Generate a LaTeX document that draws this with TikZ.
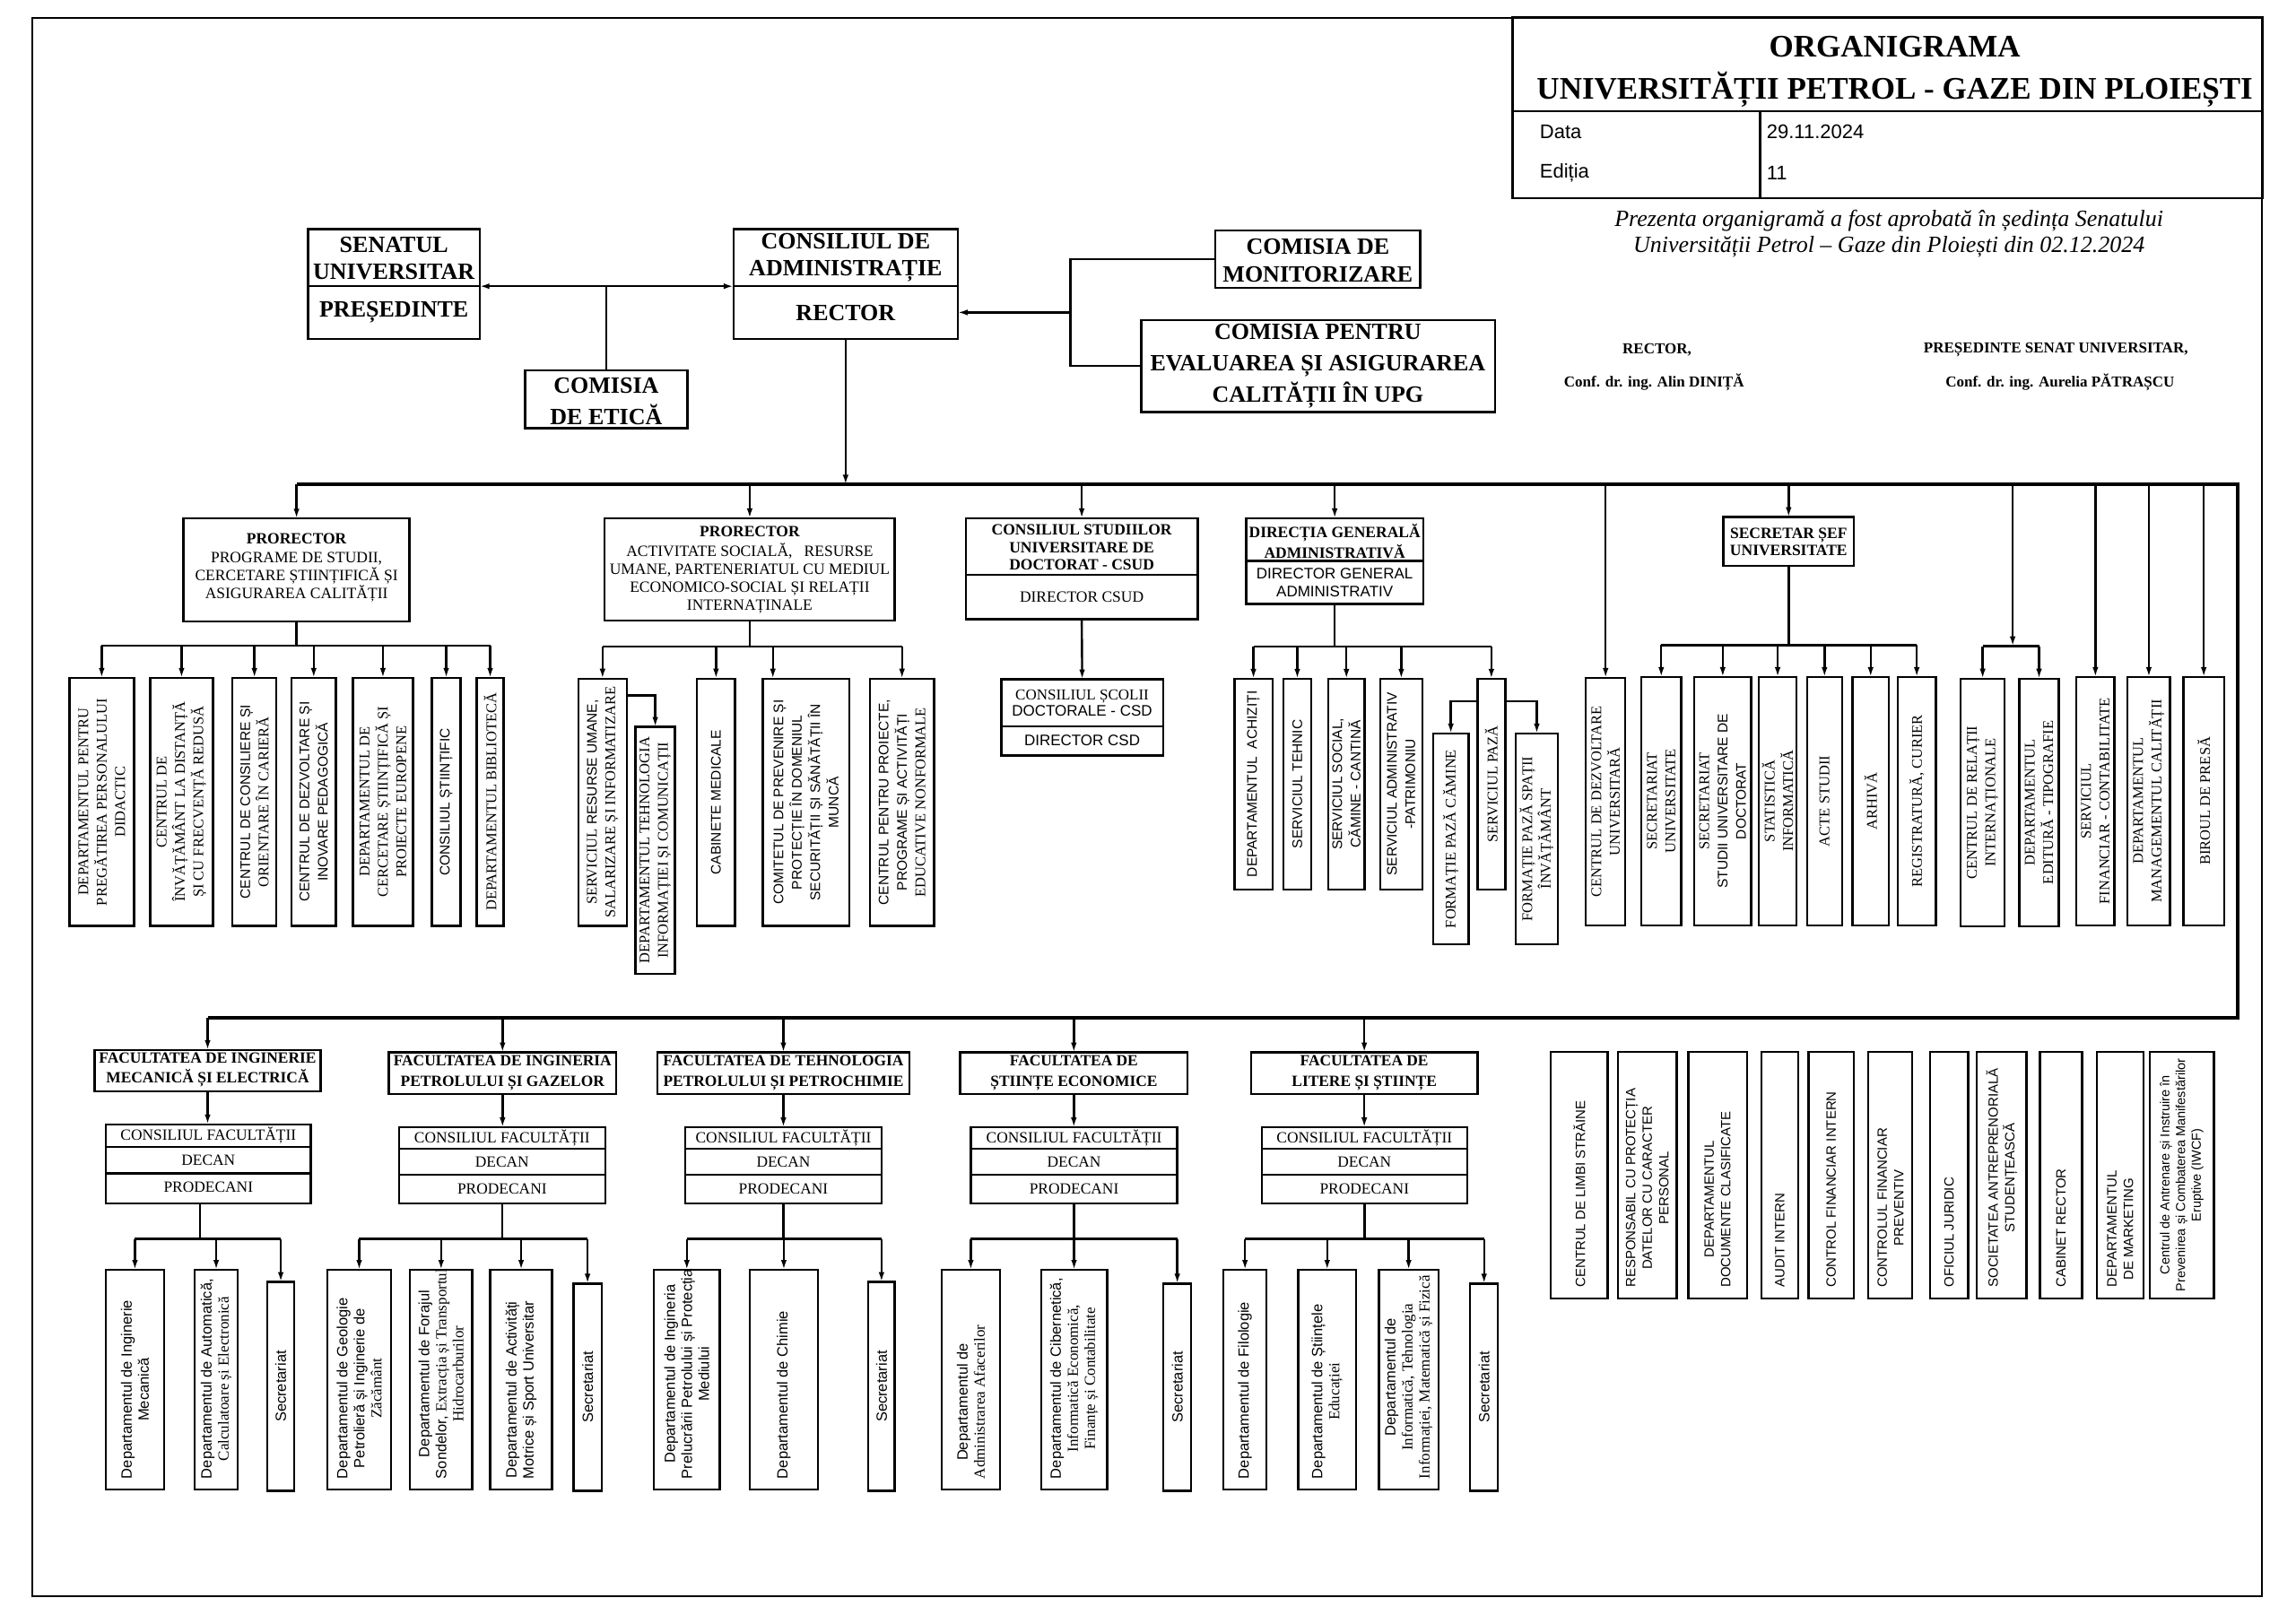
\documentclass[tikz,border=0pt]{standalone}
\usepackage{fontspec}
\setmainfont{Liberation Serif}
\newfontfamily\sansf{Liberation Sans}
\usetikzlibrary{arrows.meta,fit}
\newcommand\fsz[2]{\fontsize{#1}{#2}\selectfont}
\newcommand\bx[5]{\node[boxs,fit={(#2,#3) (#4,#5)}] (#1) {};}
\newcommand\vtx[3]{\node[vt,#2] (#1t) at (#1.center) {#3};}
\newcommand\vtb[3]{\node[vt,anchor=west,#2] (#1t) at ([yshift=12pt]#1.south) {#3};}
\tikzset{
 boxs/.style={draw,line width=2.4pt,inner sep=0pt,outer sep=0pt},
 con/.style={line width=2.4pt},
 arr/.style={line width=2.4pt,-{Latex[length=11pt,width=6.5pt]}},
 busl/.style={line width=4pt},
 vt/.style={rotate=90,align=center,inner sep=0pt},
 vr/.style={font=\fsz{16.5}{20.5}},
 vs/.style={font=\sansf\fsz{15.5}{20.5}},
 bt/.style={font=\sansf\fsz{16.5}{19}},
 rt/.style={font=\sansf\fsz{15}{18.5}},
 hb/.style={align=center,inner sep=0pt,font=\bfseries\fsz{26}{30}},
 mb/.style={align=center,inner sep=0pt,font=\bfseries\fsz{17.5}{19.5}},
 mr/.style={align=center,inner sep=0pt,font=\fsz{17.5}{19.5}},
 ms/.style={align=center,inner sep=0pt,font=\sansf\fsz{17}{20}},
 fb/.style={align=center,inner sep=0pt,font=\bfseries\fsz{17.4}{22.7}},
 cfr/.style={align=center,inner sep=0pt,font=\fsz{17.4}{20}},
}
\begin{document}
\begin{tikzpicture}[x=1.63265pt,y=-1.63265pt]
\useasboundingbox (0,0) rectangle (1568,1109);
\fill[white] (0,0) rectangle (1568,1109);
\draw[line width=2pt] (22,12) rectangle (1545,1090);

% ---------- title block
\bx{tit}{1033}{12}{1545}{135.4}
\draw[con] (1033,76) -- (1545,76);
\draw[con] (1202,76) -- (1202,135.4);
\node[inner sep=0pt,font=\bfseries\fsz{35}{38}] (tt1) at (1294,32) {ORGANIGRAMA};
\node[inner sep=0pt,font=\bfseries\fsz{35}{38}] (tt2) at (1294,61.3) {UNIVERSITĂȚII PETROL - GAZE DIN PLOIEȘTI};
\node[anchor=west,inner sep=0pt,font=\sansf\fsz{22}{24}] (dl) at (1051.5,89.8) {Data};
\node[anchor=west,inner sep=0pt,font=\sansf\fsz{22}{24}] (dv) at (1206.4,89.8) {29.11.2024};
\node[anchor=west,inner sep=0pt,font=\sansf\fsz{22}{24}] (el) at (1051.5,118.4) {Ediția};
\node[anchor=west,inner sep=0pt,font=\sansf\fsz{22}{24}] (ev) at (1206.4,118.4) {11};
\node[align=center,inner sep=0pt,font=\itshape\fsz{26}{28.4}] (apr) at (1290,159.7) {Prezenta organigramă a fost aprobată în ședința Senatului\\Universității Petrol – Gaze din Ploiești din 02.12.2024};
\node[inner sep=0pt,font=\bfseries\fsz{17}{20}] (sg1) at (1131.6,239) {RECTOR,};
\node[inner sep=0pt,font=\bfseries\fsz{17}{20}] (sg2) at (1129.6,261) {Conf. dr. ing. Alin DINIȚĂ};
\node[inner sep=0pt,font=\bfseries\fsz{17}{20}] (sg3) at (1404,239) {PREȘEDINTE SENAT UNIVERSITAR,};
\node[inner sep=0pt,font=\bfseries\fsz{17}{20}] (sg4) at (1406.8,261) {Conf. dr. ing. Aurelia PĂTRAȘCU};

% ---------- top level
\bx{sen}{210.5}{156.5}{327.5}{231.5}
\draw[con] (210.5,195.5) -- (327.5,195.5);
\node[hb] (senT) at (269,176.6) {SENATUL\\UNIVERSITAR};
\node[hb] (senP) at (269,213) {PREȘEDINTE};
\bx{cad}{501}{156.5}{654}{231.5}
\draw[con] (501,195.5) -- (654,195.5);
\node[hb] (cadT) at (577.5,176) {CONSILIUL DE\\ADMINISTRAȚIE};
\node[hb] (cadR) at (577.5,214) {RECTOR};
\coordinate (sa) at (327.5,195.5);
\coordinate (sb) at (501,195.5);
\draw[con,{Latex[length=11pt,width=6.5pt]}-{Latex[length=11pt,width=6.5pt]}] (sa) -- (sb);
\bx{eti}{358.5}{253}{469.5}{292.5}
\draw[con] (eti.north |- sa) -- (eti.north);
\node[hb,font=\bfseries\fsz{26}{35}] (etiT) at (414,274) {COMISIA\\DE ETICĂ};
\bx{mon}{830}{157.5}{970}{196.5}
\node[hb,font=\bfseries\fsz{26}{31}] (monT) at (900,178) {COMISIA DE\\MONITORIZARE};
\bx{eva}{779.5}{218.5}{1021}{281.5}
\node[hb,font=\bfseries\fsz{26}{35}] (evaT) at (900,249.8) {COMISIA PENTRU\\EVALUAREA ȘI ASIGURAREA\\CALITĂȚII ÎN UPG};
\coordinate (kx) at (731,213.4);
\draw[con] (mon.west) -| (kx) |- (eva.west);
\draw[arr] (kx) -- (kx -| cad.east);

% ---------- buses
\coordinate (busL) at (202.5,331);
\coordinate (busR) at (1528,331);
\coordinate (busBR) at (1528,695);
\coordinate (busBL) at (141.8,695);
\draw[busl] (busL) -- (busR) -- (busBR) -- (busBL);
\draw[arr] (cad.south) -- (cad.south |- busL);

% ---------- prorector 1
\bx{pra}{125.3}{354.2}{279.7}{424.3}
\draw[arr] (pra.north |- busL) -- (pra.north);
\node[mb] (praT) at (202.5,368) {PRORECTOR};
\node[mr,font=\fsz{17.5}{20}] (praS) at (202.5,394) {PROGRAME DE STUDII,\\CERCETARE ȘTIINȚIFICĂ ȘI\\ASIGURAREA CALITĂȚII};
\coordinate (ba) at (202.5,441);
\draw[con] (pra.south) -- (ba);
\bx{a1}{47.4}{463}{91.5}{632.5}
\bx{a2}{102.5}{463}{145.5}{632.5}
\bx{a3}{158.7}{463}{188.8}{632.5}
\bx{a4}{199}{463}{229.5}{632.5}
\bx{a5}{241}{463}{282}{632.5}
\bx{a6}{295}{463}{314.5}{632.5}
\bx{a7}{325.5}{463}{344}{632.5}
\draw[con] (a1.north |- ba) -- (a7.north |- ba);
\foreach \n in {a1,a2,a3,a4,a5,a6,a7} {\draw[arr] (\n.north |- ba) -- (\n.north);}
\vtx{a1}{vr}{DEPARTAMENTUL PENTRU\\PREGĂTIREA PERSONALULUI\\DIDACTIC}
\vtx{a2}{vr}{CENTRUL DE\\ÎNVĂȚĂMÂNT LA DISTANȚĂ\\ȘI CU FRECVENȚĂ REDUSĂ}
\vtx{a3}{vr}{{\sansf\fsz{15.5}{20.5}CENTRUL DE CONSILIERE ȘI}\\ORIENTARE ÎN CARIERĂ}
\vtx{a4}{vs}{CENTRUL DE DEZVOLTARE ȘI\\INOVARE PEDAGOGICĂ}
\vtx{a5}{vr}{DEPARTAMENTUL DE\\CERCETARE ȘTIINȚIFICĂ ȘI\\PROIECTE EUROPENE}
\vtx{a6}{vs}{CONSILIUL ȘTIINȚIFIC}
\vtx{a7}{vr}{DEPARTAMENTUL BIBLIOTECĂ}

% ---------- prorector 2
\bx{prb}{413}{354}{611}{424}
\draw[arr] (prb.north |- busL) -- (prb.north);
\node[mb] (prbT) at (512,363.3) {PRORECTOR};
\node[mr,font=\fsz{17.5}{20}] (prbS) at (512,395) {ACTIVITATE SOCIALĂ,\ \ \ RESURSE\\UMANE, PARTENERIATUL CU MEDIUL\\ECONOMICO-SOCIAL ȘI RELAȚII\\INTERNAȚINALE};
\coordinate (bb) at (512,441.5);
\draw[con] (prb.south) -- (bb);
\bx{b1}{395}{463.5}{428}{632.5}
\bx{b2}{434}{496.5}{461}{665}
\bx{b3}{476}{463.5}{502}{632.5}
\bx{b4}{521}{463.5}{580}{632.5}
\bx{b5}{594}{463.5}{638}{632.5}
\coordinate (b4d) at (527.8,463.5);
\draw[con] (b1.north |- bb) -- (b5.north |- bb);
\draw[arr] (b1.north |- bb) -- (b1.north);
\draw[arr] (b3.north |- bb) -- (b3.north);
\draw[arr] (b4d |- bb) -- (b4d);
\draw[arr] (b5.north |- bb) -- (b5.north);
\coordinate (b12) at (448,475);
\draw[arr] (b1.east |- b12) -| (b2.north);
\vtx{b1}{vr}{SERVICIUL {\sansf\fsz{15.5}{20.5}RESURSE UMANE,}\\SALARIZARE ȘI INFORMATIZARE}
\vtx{b2}{vr}{DEPARTAMENTUL TEHNOLOGIA\\INFORMAȚIEI ȘI COMUNICAȚII}
\vtx{b3}{vs}{CABINETE MEDICALE}
\vtx{b4}{vs}{COMITETUL DE PREVENIRE ȘI\\PROTECȚIE ÎN DOMENIUL\\SECURITĂȚII ȘI SĂNĂTĂȚII ÎN\\MUNCĂ}
\vtx{b5}{vs}{CENTRUL PENTRU PROIECTE,\\PROGRAME ȘI ACTIVITĂȚI\\{\rmfamily\fsz{16.5}{20.5}EDUCATIVE NONFORMALE}}

% ---------- CSUD
\bx{csu}{659.5}{354}{818}{423}
\draw[con] (659.5,392.6) -- (818,392.6);
\draw[arr] (csu.north |- busL) -- (csu.north);
\node[mb,font=\bfseries\fsz{17.5}{19.6}] (csuT) at (738.75,373.8) {CONSILIUL STUDIILOR\\UNIVERSITARE DE\\DOCTORAT - CSUD};
\node[mr] (csuD) at (738.75,408) {DIRECTOR CSUD};
\bx{csd}{683.8}{464}{794.3}{516}
\draw[con] (683.8,496) -- (794.3,496);
\node[mr,font=\fsz{17}{18.2}] (csdT) at (739,480.3) {CONSILIUL ȘCOLII\\{\sansf DOCTORALE - CSD}};
\node[ms] (csdD) at (739,505.7) {DIRECTOR CSD};
\draw[arr] (csu.south) -- (csd.north);

% ---------- DGA
\bx{dga}{851}{354}{972}{412.5}
\draw[con] (851,383) -- (972,383);
\draw[arr] (dga.north |- busL) -- (dga.north);
\node[mb,font=\bfseries\fsz{17.5}{22.5}] (dgaT) at (911.5,369.7) {DIRECȚIA GENERALĂ\\ADMINISTRATIVĂ};
\node[ms,font=\sansf\fsz{17}{19.9}] (dgaD) at (911.5,398.1) {DIRECTOR GENERAL\\ADMINISTRATIV};
\coordinate (bd) at (911.5,441.6);
\draw[con] (dga.south) -- (bd);
\bx{d1}{843}{463.6}{869}{607.5}
\bx{d2}{876.5}{463.6}{895.4}{607.5}
\bx{d3}{907}{463.6}{932}{607.5}
\bx{d4}{942.6}{463.6}{971.3}{607.5}
\bx{d5}{1009}{463.6}{1028}{607.5}
\bx{d6}{978.6}{501}{1003}{645}
\bx{d7}{1035}{501}{1064}{645}
\draw[con] (d1.north |- bd) -- (d5.north |- bd);
\foreach \n in {d1,d2,d3,d4,d5} {\draw[arr] (\n.north |- bd) -- (\n.north);}
\coordinate (pz) at (1018.5,479);
\draw[arr] (d5.west |- pz) -| (d6.north);
\draw[arr] (d5.east |- pz) -| (d7.north);
\vtx{d1}{vs}{DEPARTAMENTUL\ \ ACHIZIȚI}
\vtx{d2}{vs}{SERVICIUL TEHNIC}
\vtx{d3}{vs}{SERVICIUL SOCIAL,\\CĂMINE - CANTINĂ}
\vtx{d4}{vs}{SERVICIUL ADMINISTRATIV\\-PATRIMONIU}
\vtx{d5}{vr}{SERVICIUL PAZĂ}
\vtx{d6}{vr}{FORMAȚIE PAZĂ CĂMINE}
\vtx{d7}{vr}{FORMAȚIE PAZĂ SPAȚII\\ÎNVĂȚĂMÂNT}

% ---------- centrul de dezvoltare
\bx{cdu}{1083}{463}{1110}{632}
\draw[arr] (cdu.north |- busL) -- (cdu.north);
\vtx{cdu}{vr}{CENTRUL DE DEZVOLTARE\\UNIVERSITARĂ}

% ---------- secretar sef
\bx{ssu}{1177}{353.2}{1266}{386.5}
\draw[arr] (ssu.north |- busL) -- (ssu.north);
\node[mb,font=\bfseries\fsz{17.5}{18.5}] (ssuT) at (1221.5,370) {SECRETAR ȘEF\\UNIVERSITATE};
\coordinate (bs) at (1221.5,440.6);
\draw[con] (ssu.south) -- (bs);
\bx{e1}{1121}{462.4}{1148}{632}
\bx{e2}{1157}{462.4}{1196}{632}
\bx{e3}{1201}{462.4}{1227}{632}
\bx{e4}{1234}{462.4}{1258}{632}
\bx{e5}{1265}{462.4}{1290}{632}
\bx{e6}{1296}{462.4}{1322}{632}
\draw[con] (e1.north |- bs) -- (e6.north |- bs);
\foreach \n in {e1,e2,e3,e4,e5,e6} {\draw[arr] (\n.north |- bs) -- (\n.north);}
\vtx{e1}{vr}{SECRETARIAT\\UNIVERSITATE}
\vtx{e2}{vr}{SECRETARIAT\\{\sansf\fsz{15.5}{20.5}STUDII UNIVERSITARE DE}\\{\sansf\fsz{15.5}{20.5}DOCTORAT}}
\vtx{e3}{vr}{STATISTICĂ\\INFORMATICĂ}
\vtx{e4}{vr}{ACTE STUDII}
\vtx{e5}{vr}{ARHIVĂ}
\vtx{e6}{vr}{REGISTRATURĂ, CURIER}

% ---------- relatii / editura
\bx{f1}{1339}{463.5}{1369}{632.7}
\bx{f2}{1379}{463.5}{1406}{632.7}
\coordinate (br) at (1374.5,441.4);
\draw[arr] (br |- busL) -- (br);
\draw[con] (f1.north |- br) -- (f2.north |- br);
\draw[arr] (f1.north |- br) -- (f1.north);
\draw[arr] (f2.north |- br) -- (f2.north);
\vtx{f1}{vr}{CENTRUL DE RELAȚII\\INTERNAȚIONALE}
\vtx{f2}{vr}{DEPARTAMENTUL\\EDITURĂ - TIPOGRAFIE}

% ---------- financiar, calitate, presa
\bx{g1}{1418}{462.4}{1444}{632}
\bx{g2}{1453}{462.4}{1482}{632}
\bx{g3}{1491}{462.4}{1519}{632}
\foreach \n in {g1,g2,g3} {\draw[arr] (\n.north |- busL) -- (\n.north);}
\vtx{g1}{vr}{SERVICIUL\\FINANCIAR - CONTABILITATE}
\vtx{g2}{vr}{DEPARTAMENTUL\\MANAGEMENTUL CALITĂȚII}
\vtx{g3}{vr}{BIROUL DE PRESĂ}

% ---------- faculties
% FAC 1
\bx{fa1}{64.6}{717.2}{219}{745.3}
\draw[arr] (fa1.north |- busBL) -- (fa1.north);
\node[fb] (fa1T) at (141.8,730.6) {FACULTATEA DE INGINERIE\\MECANICĂ ȘI ELECTRICĂ};
\bx{cf1}{72.3}{768}{212.3}{822}
\draw[con] (72.3,783.5) -- (212.3,783.5);
\draw[con] (72.3,801.5) -- (212.3,801.5);
\node[cfr] (cf1a) at (142.3,775.7) {CONSILIUL FACULTĂȚII};
\node[cfr] (cf1b) at (142.3,792.5) {DECAN};
\node[cfr] (cf1c) at (142.3,811) {PRODECANI};
\draw[arr] (fa1.south) -- (fa1.south |- cf1.north);
\coordinate (s1) at (136.6,846.2);
\draw[con] (cf1.south -| s1) -- (s1);
\bx{h11}{72.3}{867.3}{112}{1017.5}
\bx{h12}{133}{867.3}{162.3}{1017.5}
\bx{h13}{182.5}{875.6}{201}{1018.3}
\draw[con] (h11.north |- s1) -- (h13.north |- s1);
\foreach \n in {h11,h12,h13} {\draw[arr] (\n.north |- s1) -- (\n.north);}
\vtb{h11}{bt}{Departamentul de Inginerie\\Mecanică}
\vtb{h12}{bt}{Departamentul de Automatică,\\{\rmfamily\fsz{17}{19}Calculatoare și Electronică}}
\vtx{h13}{bt}{Secretariat}

% FAC 2
\bx{fa2}{265.6}{718.8}{420.8}{747.2}
\draw[arr] (fa2.north |- busBL) -- (fa2.north);
\node[fb] (fa2T) at (343.2,733) {FACULTATEA DE INGINERIA\\PETROLULUI ȘI GAZELOR};
\bx{cf2}{272.4}{770}{413.4}{822}
\draw[con] (272.4,784.5) -- (413.4,784.5);
\draw[con] (272.4,802.4) -- (413.4,802.4);
\node[cfr] (cf2a) at (342.9,777) {CONSILIUL FACULTĂȚII};
\node[cfr] (cf2b) at (342.9,793.5) {DECAN};
\node[cfr] (cf2c) at (342.9,812) {PRODECANI};
\draw[arr] (fa2.south) -- (fa2.south |- cf2.north);
\coordinate (s2) at (342.9,846.2);
\draw[con] (cf2.south) -- (s2);
\bx{h21}{223.6}{867.3}{267}{1017.5}
\bx{h22}{280}{867.3}{322.5}{1017.5}
\bx{h23}{334.8}{867.3}{377}{1017.5}
\bx{h24}{391.7}{876.7}{410.8}{1018.3}
\draw[con] (h21.north |- s2) -- (h24.north |- s2);
\foreach \n in {h21,h22,h23,h24} {\draw[arr] (\n.north |- s2) -- (\n.north);}
\vtb{h21}{bt}{Departamentul de Geologie\\Petrolieră și Inginerie de\\{\rmfamily\fsz{17}{19}Zăcământ}}
\vtb{h22}{bt}{Departamentul de Forajul\\Sondelor, {\rmfamily\fsz{17}{19}Extracția și Transportul}\\{\rmfamily\fsz{17}{19}Hidrocarburilor}}
\vtb{h23}{bt}{Departamentul de Activități\\Motrice și Sport Universitar}
\vtx{h24}{bt}{Secretariat}

% FAC 3
\bx{fa3}{449}{718.8}{621}{747.2}
\draw[arr] (fa3.north |- busBL) -- (fa3.north);
\node[fb] (fa3T) at (535,733) {FACULTATEA DE TEHNOLOGIA\\PETROLULUI ȘI PETROCHIMIE};
\bx{cf3}{468}{770}{602}{822}
\draw[con] (468,784.5) -- (602,784.5);
\draw[con] (468,802.4) -- (602,802.4);
\node[cfr] (cf3a) at (535,777) {CONSILIUL FACULTĂȚII};
\node[cfr] (cf3b) at (535,793.5) {DECAN};
\node[cfr] (cf3c) at (535,812) {PRODECANI};
\draw[arr] (fa3.south) -- (fa3.south |- cf3.north);
\coordinate (s3) at (535,846.2);
\draw[con] (cf3.south) -- (s3);
\bx{h31}{446.5}{867.3}{491.6}{1017.5}
\bx{h32}{512}{867.3}{558.6}{1017.5}
\bx{h33}{593}{875.6}{611}{1018.3}
\draw[con] (h31.north |- s3) -- (h33.north |- s3);
\foreach \n in {h31,h32,h33} {\draw[arr] (\n.north |- s3) -- (\n.north);}
\vtb{h31}{bt}{Departamentul de Ingineria\\Prelucrării Petrolului și Protecția\\Mediului}
\vtb{h32}{bt}{Departamentul de Chimie}
\vtx{h33}{bt}{Secretariat}

% FAC 4
\bx{fa4}{655.7}{718.8}{811}{747.2}
\draw[arr] (fa4.north |- busBL) -- (fa4.north);
\node[fb] (fa4T) at (733.4,733) {FACULTATEA DE\\ȘTIINȚE ECONOMICE};
\bx{cf4}{663}{770}{804}{822}
\draw[con] (663,784.5) -- (804,784.5);
\draw[con] (663,802.4) -- (804,802.4);
\node[cfr] (cf4a) at (733.5,777) {CONSILIUL FACULTĂȚII};
\node[cfr] (cf4b) at (733.5,793.5) {DECAN};
\node[cfr] (cf4c) at (733.5,812) {PRODECANI};
\draw[arr] (fa4.south) -- (fa4.south |- cf4.north);
\coordinate (s4) at (733.5,846.2);
\draw[con] (cf4.south) -- (s4);
\bx{h41}{643}{867.3}{683}{1017.5}
\bx{h42}{711}{867.3}{756}{1017.5}
\bx{h43}{794.5}{876.7}{813.5}{1018.3}
\draw[con] (h41.north |- s4) -- (h43.north |- s4);
\foreach \n in {h41,h42,h43} {\draw[arr] (\n.north |- s4) -- (\n.north);}
\vtb{h41}{bt}{Departamentul de\\{\rmfamily\fsz{17}{19}Administrarea Afacerilor}}
\vtb{h42}{bt}{Departamentul de Cibernetică,\\{\rmfamily\fsz{17}{19}Informatică Economică,}\\{\rmfamily\fsz{17}{19}Finanțe și Contabilitate}}
\vtx{h43}{bt}{Secretariat}

% FAC 5
\bx{fa5}{854.4}{718.8}{1009}{747.2}
\draw[arr] (fa5.north |- busBL) -- (fa5.north);
\node[fb] (fa5T) at (931.7,733) {FACULTATEA DE\\LITERE ȘI ȘTIINȚE};
\bx{cf5}{861.6}{770}{1002}{822}
\draw[con] (861.6,784.5) -- (1002,784.5);
\draw[con] (861.6,802.4) -- (1002,802.4);
\node[cfr] (cf5a) at (931.8,777) {CONSILIUL FACULTĂȚII};
\node[cfr] (cf5b) at (931.8,793.5) {DECAN};
\node[cfr] (cf5c) at (931.8,812) {PRODECANI};
\draw[arr] (fa5.south) -- (fa5.south |- cf5.north);
\coordinate (s5) at (931.8,846.2);
\draw[con] (cf5.south) -- (s5);
\bx{h51}{835.5}{867.3}{865}{1017.5}
\bx{h52}{886.7}{867.3}{926}{1017.5}
\bx{h53}{941.6}{867.3}{982.4}{1017.5}
\bx{h54}{1004}{876.7}{1023}{1018.3}
\draw[con] (h51.north |- s5) -- (h54.north |- s5);
\foreach \n in {h51,h52,h53,h54} {\draw[arr] (\n.north |- s5) -- (\n.north);}
\vtb{h51}{bt}{Departamentul de Filologie}
\vtb{h52}{bt}{Departamentul de Științele\\{\rmfamily\fsz{17}{19}Educației}}
\vtb{h53}{bt}{Departamentul de\\{\rmfamily\fsz{17}{19}Informatică, Tehnologia}\\{\rmfamily\fsz{17}{19}Informației, Matematică și Fizică}}
\vtx{h54}{bt}{Secretariat}

% ---------- right-hand boxes below the bus
\bx{r1}{1059}{718.3}{1098}{886.8}
\bx{r2}{1105}{718.3}{1145}{886.8}
\bx{r3}{1153}{718.3}{1193}{886.8}
\bx{r4}{1203}{718.3}{1228}{886.8}
\bx{r5}{1235}{718.3}{1266}{886.8}
\bx{r6}{1276}{718.3}{1306}{886.8}
\bx{r7}{1318}{718.3}{1344}{886.8}
\bx{r8}{1350}{718.3}{1384}{886.8}
\bx{r9}{1393}{718.3}{1422}{886.8}
\bx{r10}{1432}{718.3}{1464}{886.8}
\bx{r11}{1468}{718.3}{1512}{886.8}
\vtb{r1}{rt}{CENTRUL DE LIMBI STRĂINE}
\vtb{r2}{rt}{RESPONSABIL CU PROTECȚIA\\DATELOR CU CARACTER\\PERSONAL}
\vtb{r3}{rt}{DEPARTAMENTUL\\DOCUMENTE CLASIFICATE}
\vtb{r4}{rt}{AUDIT INTERN}
\vtb{r5}{rt}{CONTROL FINANCIAR INTERN}
\vtb{r6}{rt}{CONTROLUL FINANCIAR\\PREVENTIV}
\vtb{r7}{rt}{OFICIUL JURIDIC}
\vtb{r8}{rt}{SOCIETATEA ANTREPRENORIALĂ\\STUDENȚEASCĂ}
\vtb{r9}{rt}{CABINET RECTOR}
\vtb{r10}{rt}{DEPARTAMENTUL\\DE MARKETING}
\vtx{r11}{font=\sansf\fsz{14.5}{17.5}}{Centrul de Antrenare și Instruire în\\Prevenirea și Combaterea Manifestărilor\\Eruptive (IWCF)}
\end{tikzpicture}
\end{document}
